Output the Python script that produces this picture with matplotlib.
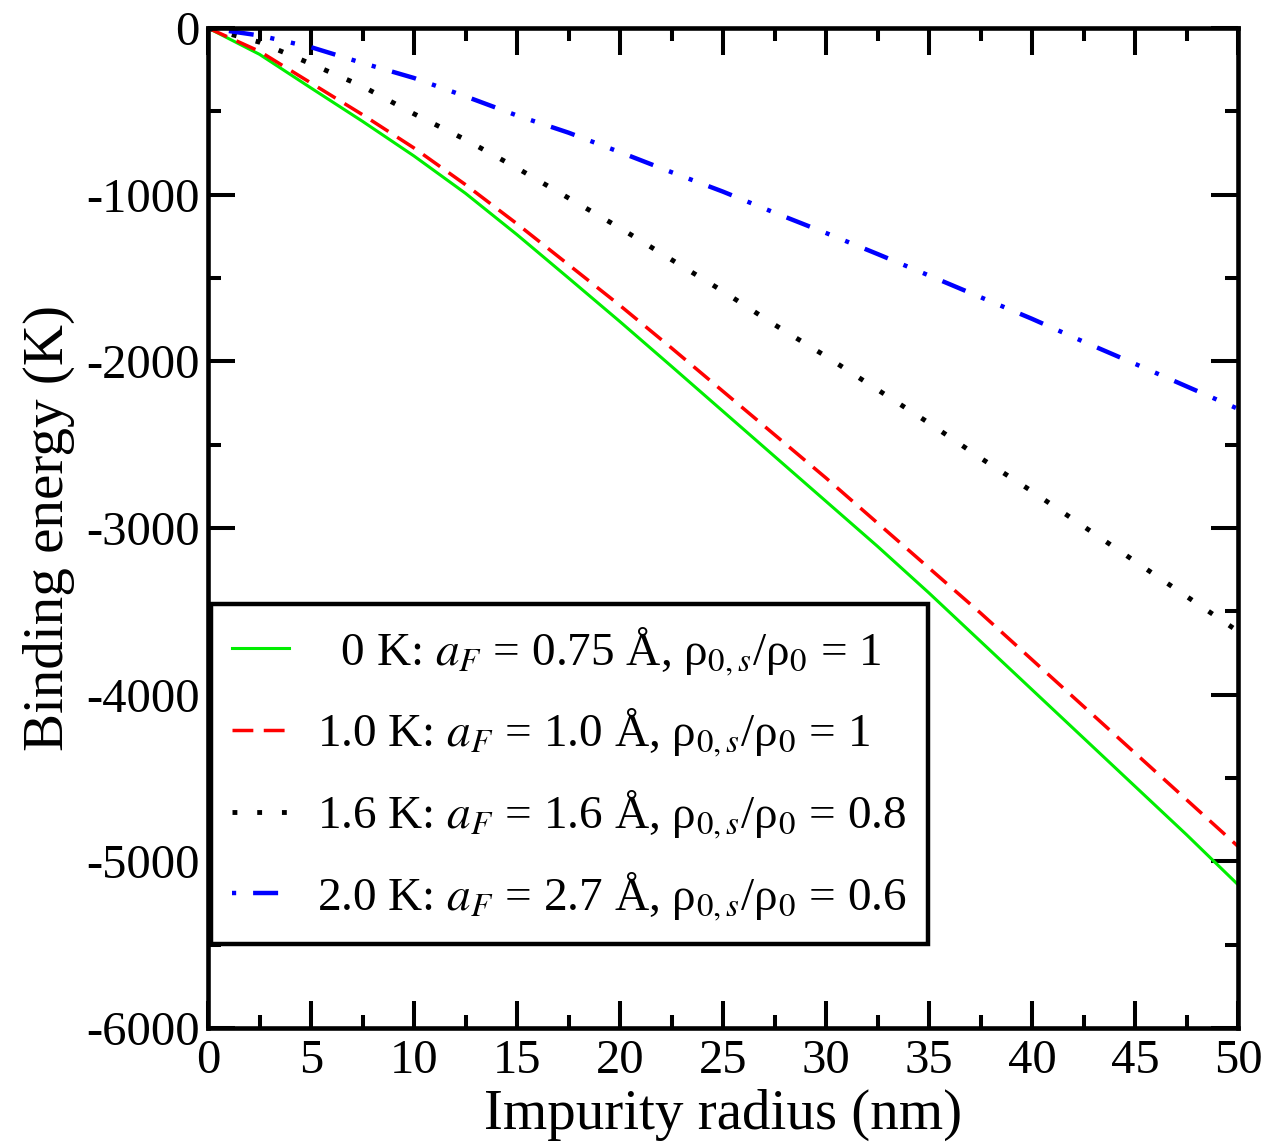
import numpy as np
import matplotlib
matplotlib.use("Agg")
import matplotlib.pyplot as plt
from matplotlib.ticker import MultipleLocator

plt.rcParams['font.family'] = ['Liberation Serif', 'DejaVu Serif']
plt.rcParams['mathtext.fontset'] = 'stix'
plt.rcParams['axes.unicode_minus'] = False
plt.rcParams['lines.scale_dashes'] = False

# radius (nm)
radius = [0, 2.5, 5, 7.5, 10, 12.5, 15, 17.5, 20, 22.5, 25,
          27.5, 30, 32.5, 35, 37.5, 40, 42.5, 45, 47.5, 50]

# binding energy (K)
e_0K = [0, -158, -360, -560, -768, -992, -1240, -1500, -1762, -2030, -2300,
        -2570, -2840, -3110, -3390, -3680, -3970, -4260, -4550, -4840, -5140]
e_10K = [0, -140, -330, -520, -720, -940, -1175, -1420, -1665, -1920, -2180,
         -2440, -2700, -2970, -3240, -3510, -3790, -4070, -4350, -4630, -4910]
e_16K = [0, -85, -215, -350, -515, -670, -840, -1020, -1200, -1390, -1580,
         -1780, -1970, -2170, -2370, -2580, -2780, -2990, -3200, -3410, -3620]
e_20K = [0, -45, -115, -210, -300, -410, -525, -628, -745, -865, -982,
         -1108, -1230, -1356, -1485, -1615, -1745, -1882, -2015, -2150, -2285]

labels = [r'  0 K: $a_F$ = 0.75 Å, ρ$_{0,s}$/ρ$_0$ = 1',
          r'1.0 K: $a_F$ = 1.0 Å, ρ$_{0,s}$/ρ$_0$ = 1',
          r'1.6 K: $a_F$ = 1.6 Å, ρ$_{0,s}$/ρ$_0$ = 0.8',
          r'2.0 K: $a_F$ = 2.7 Å, ρ$_{0,s}$/ρ$_0$ = 0.6']

fig = plt.figure(figsize=(12.67, 11.43), dpi=100)
ax = fig.add_axes([208/1267, 1 - 1028/1143, 1030/1267, 1000/1143])

ax.plot(radius, e_0K, color='#00ee00', lw=2.2, label=labels[0])
ax.plot(radius, e_10K, color='#ff0000', lw=2.5, linestyle=(0, (15, 7.5)), label=labels[1])
ax.plot(radius, e_16K, color='black', lw=3.5, linestyle=(0, (3.5, 14.3)), label=labels[2])
ax.plot(radius, e_20K, color='#0000ff', lw=3.2,
        linestyle=(45.4, (18, 12.2, 3, 12.2, 3, 12.2)), label=labels[3])

ax.set_xlim(0, 50)
ax.set_ylim(-6000, 0)
ax.xaxis.set_major_locator(MultipleLocator(5))
ax.xaxis.set_minor_locator(MultipleLocator(2.5))
ax.yaxis.set_major_locator(MultipleLocator(1000))
ax.yaxis.set_minor_locator(MultipleLocator(500))

ax.tick_params(which='both', direction='in', top=True, right=True, width=2.9, labelsize=35)
ax.tick_params(which='major', length=19.5)
ax.tick_params(which='minor', length=9.5)
ax.tick_params(axis='x', pad=8)
ax.tick_params(axis='y', pad=6)
for s in ax.spines.values():
    s.set_linewidth(3.3)

ax.set_xlabel('Impurity radius (nm)', fontsize=41, labelpad=4)
ax.set_ylabel('Binding energy (K)', fontsize=41, labelpad=8)

leg = ax.legend(loc='lower left', bbox_to_anchor=(0.003, 0.084), borderaxespad=0,
                fontsize=34, handlelength=1.2, handletextpad=0.6, labelspacing=0.62,
                borderpad=0.45, fancybox=False, framealpha=1, edgecolor='black')
leg.get_frame().set_linewidth(3.2)

fig.savefig('out.png', dpi=100)
